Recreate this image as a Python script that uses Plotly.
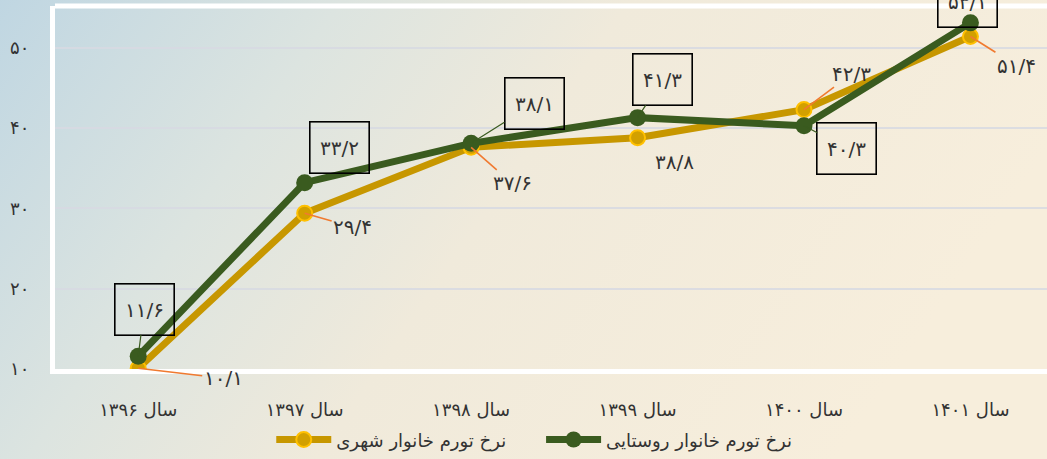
import base64
import plotly.graph_objects as go

# ---- data ----
years = ["سال ۱۳۹۶", "سال ۱۳۹۷", "سال ۱۳۹۸", "سال ۱۳۹۹", "سال ۱۴۰۰", "سال ۱۴۰۱"]
urban = [10.1, 29.4, 37.6, 38.8, 42.3, 51.4]
rural = [11.6, 33.2, 38.1, 41.3, 40.3, 53.1]
urban_text = ["۱۰/۱", "۲۹/۴", "۳۷/۶", "۳۸/۸", "۴۲/۳", "۵۱/۴"]
rural_text = ["۱۱/۶", "۳۳/۲", "۳۸/۱", "۴۱/۳", "۴۰/۳", "۵۳/۱"]
urban_name = "نرخ تورم خانوار شهری"
rural_name = "نرخ تورم خانوار روستایی"
y_ticks = [10, 20, 30, 40, 50]
y_ticktext = ["۱۰", "۲۰", "۳۰", "۴۰", "۵۰"]

# ---- label placement (pixel offsets) ----
rural_off = [(6, -47), (35, -35), (63, -40), (25, -38), (43, 23), (-3, -21)]
rural_leader = [True, False, True, True, True, False]
urban_off = [(85, 10), (48, 14), (41, 36), (37, 24), (48, -36), (46, 29)]
urban_leader = [True, True, True, False, True, True]

FONT = "DejaVu Sans"
URBAN_C = "#C79700"
RURAL_C = "#3A5B1F"

svg = """<svg xmlns='http://www.w3.org/2000/svg' width='200' height='100' preserveAspectRatio='none'>
<defs><linearGradient id='g' x1='0' y1='0' x2='1' y2='0.3'>
<stop offset='0' stop-color='#BFD6E2'/>
<stop offset='0.3' stop-color='#DCE4E0'/>
<stop offset='0.55' stop-color='#F0EADB'/>
<stop offset='1' stop-color='#F7EEDC'/>
</linearGradient></defs>
<rect width='200' height='100' fill='url(#g)'/></svg>"""
src = "data:image/svg+xml;base64," + base64.b64encode(svg.encode()).decode()

fig = go.Figure()
fig.add_trace(go.Scatter(
    x=years, y=urban, name=urban_name, mode="lines+markers", legend="legend",
    line=dict(color=URBAN_C, width=7),
    marker=dict(size=15, color="#D2A000", line=dict(color="#FFC000", width=2)),
))
fig.add_trace(go.Scatter(
    x=years, y=rural, name=rural_name, mode="lines+markers", legend="legend2",
    line=dict(color=RURAL_C, width=7),
    marker=dict(size=17, color=RURAL_C),
))

for i in range(len(years)):
    ax, ay = rural_off[i]
    fig.add_annotation(
        x=years[i], y=rural[i], text=rural_text[i], showarrow=True,
        ax=ax, ay=ay, arrowhead=0, arrowwidth=1.2,
        arrowcolor=RURAL_C if rural_leader[i] else "rgba(0,0,0,0)",
        bordercolor="#000", borderwidth=1.6, width=56, height=48,
        font=dict(family=FONT, size=20, color="#333"),
    )
    ax, ay = urban_off[i]
    fig.add_annotation(
        x=years[i], y=urban[i], text=urban_text[i], showarrow=True,
        ax=ax, ay=ay, arrowhead=0, arrowwidth=1.6,
        arrowcolor="#F07A30" if urban_leader[i] else "rgba(0,0,0,0)",
        font=dict(family=FONT, size=20, color="#333"),
    )

# top frame line
fig.add_shape(type="line", xref="paper", yref="paper", x0=0, x1=1, y0=1, y1=1,
              line=dict(color="white", width=5), layer="below")

leg_common = dict(orientation="h", yanchor="middle", xanchor="left", y=-0.195,
                  bgcolor="rgba(0,0,0,0)", font=dict(size=18, color="#333"),
                  itemwidth=55)

fig.update_layout(
    width=1047, height=459,
    margin=dict(l=55, r=0, t=6, b=90),
    paper_bgcolor="#E6E6DC",
    plot_bgcolor="rgba(255,255,255,0.22)",
    font=dict(family=FONT, color="#333"),
    images=[dict(source=src, xref="paper", yref="paper", x=-0.06, y=1.02,
                 sizex=1.07, sizey=1.28, sizing="stretch", layer="below")],
    xaxis=dict(range=[-0.5, 5.46], showgrid=False, showline=True,
               linecolor="white", linewidth=5, ticks="",
               ticklabelstandoff=20, tickfont=dict(size=18, color="#333")),
    yaxis=dict(range=[10, 55.2], tickvals=y_ticks, ticktext=y_ticktext,
               showgrid=True, gridcolor="rgba(215,217,226,0.85)", gridwidth=1.5,
               zeroline=False, showline=True, linecolor="white", linewidth=5,
               ticks="", ticklabelstandoff=17, tickfont=dict(size=18, color="#333")),
    showlegend=True,
    legend=dict(x=0.218, **leg_common),
    legend2=dict(x=0.49, **leg_common),
)

fig.write_html("out.html", config={"displayModeBar": False},
               post_script="document.body.style.margin='0';")
